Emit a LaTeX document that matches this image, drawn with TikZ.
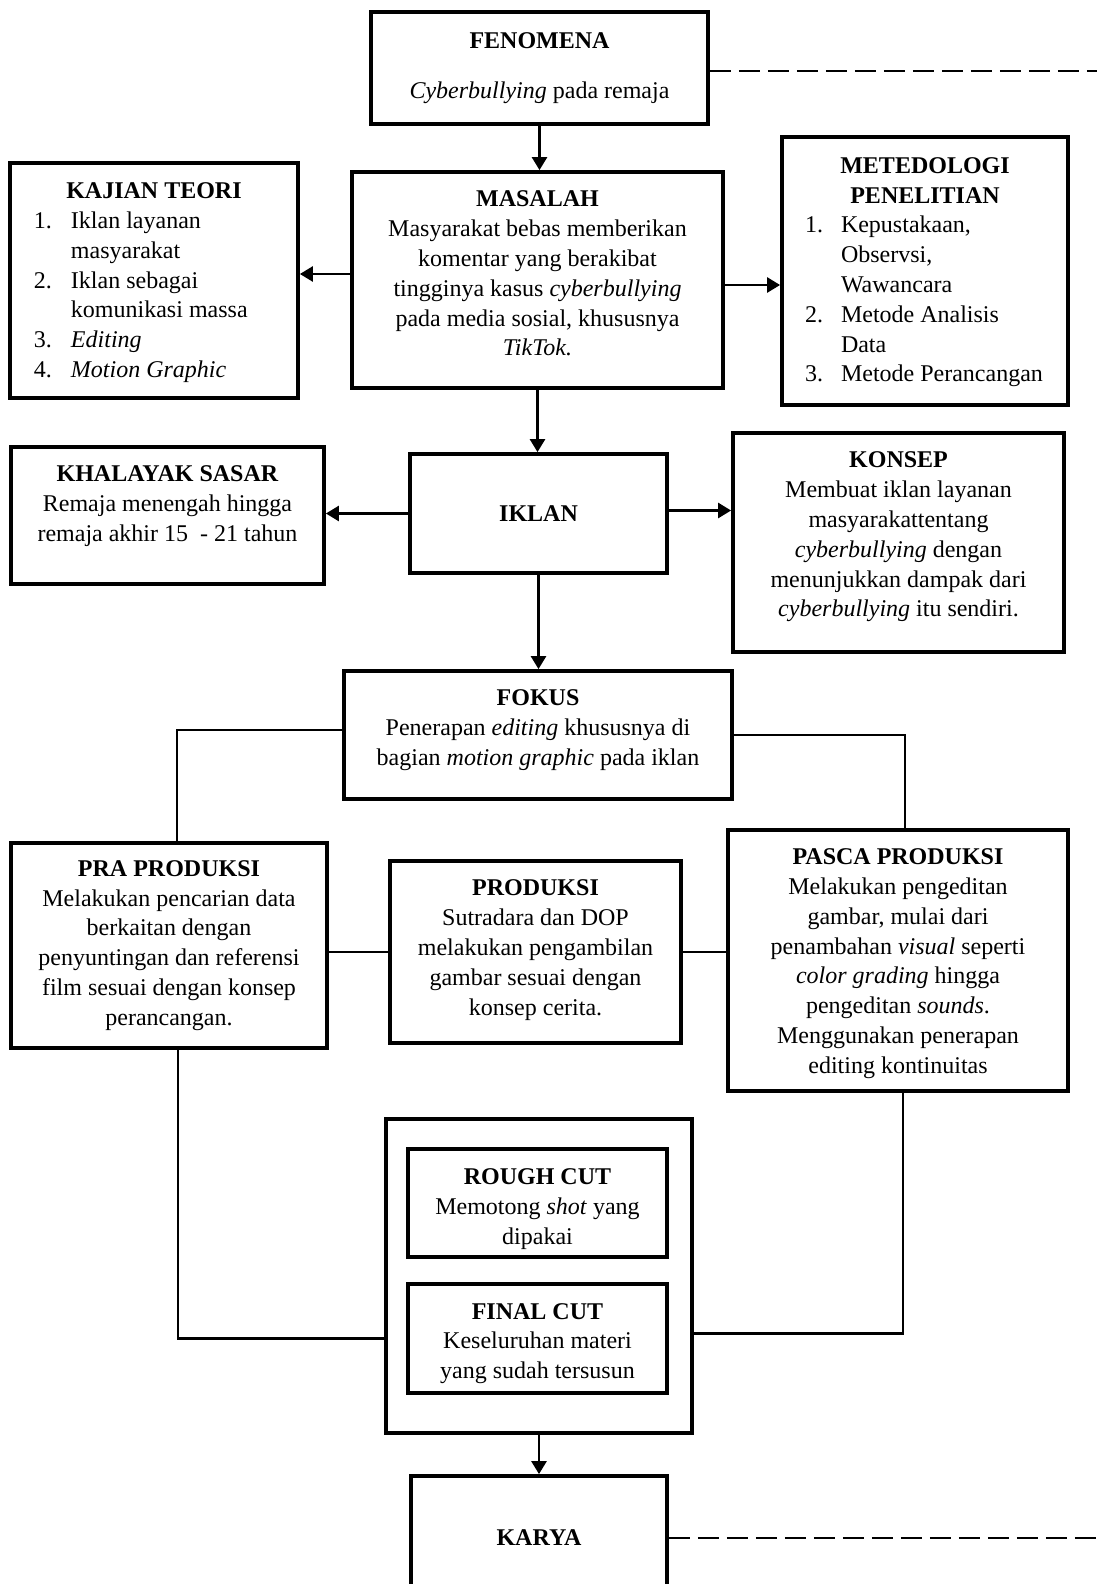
\documentclass[tikz,border=0pt]{standalone}
\usepackage{fontspec}
\setmainfont{Liberation Serif}
\usetikzlibrary{arrows.meta,positioning}

% teks rata atas di dalam kotak
\newcommand{\isiatas}[3]{\parbox[c][#2][t]{#1}{\centering\vspace*{7pt}\strut#3}}
% daftar bernomor
\newcommand{\daftar}[2]{\begin{tabular}[t]{@{}p{#1}@{}l@{}}#2\end{tabular}}
% ruang tambahan di baris pertama
\newcommand{\naik}[1]{\rule{0pt}{#1}}

\begin{document}
\begin{tikzpicture}[x=0.5pt,y=-0.5pt,
    kotak/.style={draw,line width=1.9pt,inner sep=0pt,align=center,
      font=\fontsize{12pt}{14.9pt}\selectfont},
    panah/.style={line width=1.3pt,-{Triangle[length=6.5pt,width=7.5pt]}},
    garis/.style={line width=1.3pt},
    putus/.style={line width=1.4pt,dash pattern=on 10.5pt off 4pt}]
  \useasboundingbox (0,0) rectangle (1097,1584);
  \coordinate (tepi) at (1097,0);

  % baris atas
  \node[kotak,minimum width=168.5pt,minimum height=56pt] (fenomena) at (539.5,68)
    {\textbf{FENOMENA}\\[10pt]\emph{Cyberbullying} pada remaja};
  \node[kotak] (masalah) at (537.5,280)
    {\isiatas{185.5pt}{108pt}{\textbf{MASALAH}\\ Masyarakat bebas memberikan\\ komentar yang berakibat\\
     tingginya kasus \emph{cyberbullying}\\ pada media sosial, khususnya\\ \emph{TikTok.}}};
  \node[kotak,minimum width=144pt,minimum height=117.5pt] (kajian) at (154,280.5)
    {\parbox{144pt}{\centering\naik{12pt}\textbf{KAJIAN TEORI}\par\raggedright\hspace*{12pt}%
     \daftar{18.5pt}{1. & Iklan layanan\\ & masyarakat\\ 2. & Iklan sebagai\\ & komunikasi massa\\
       3. & \emph{Editing}\\ 4. & \emph{Motion Graphic}}}};
  \node[kotak,minimum width=143pt,minimum height=134pt] (metode) at (925,271)
    {\parbox{143pt}{\centering\naik{11pt}\textbf{METEDOLOGI}\\\textbf{PENELITIAN}\par\raggedright\hspace*{11.5pt}%
     \daftar{18pt}{1. & Kepustakaan,\\ & Observsi,\\ & Wawancara\\ 2. & Metode Analisis\\ & Data\\
       3. & Metode Perancangan}}};

  % baris iklan
  \node[kotak,minimum width=128.5pt,minimum height=59.5pt] (iklan) at (538.5,513.5) {\textbf{IKLAN}};
  \node[kotak] (khalayak) at (167.5,515.5)
    {\isiatas{156.5pt}{68.5pt}{\textbf{KHALAYAK SASAR}\\ Remaja menengah hingga\\ remaja akhir 15\ \ - 21 tahun}};
  \node[kotak] (konsep) at (898.5,542.5)
    {\isiatas{165.5pt}{109.5pt}{\textbf{KONSEP}\\ Membuat iklan layanan\\ masyarakattentang\\
     \emph{cyberbullying} dengan\\ menunjukkan dampak dari\\ \emph{cyberbullying} itu sendiri.}};

  \node[kotak] (fokus) at (538,735)
    {\isiatas{194pt}{64pt}{\textbf{FOKUS}\\ Penerapan \emph{editing} khususnya di\\ bagian \emph{motion graphic} pada iklan}};

  % tahap produksi
  \node[kotak,minimum width=158pt,minimum height=102.5pt] (pra) at (169,945.5)
    {\textbf{PRA PRODUKSI}\\ Melakukan pencarian data\\ berkaitan dengan\\ penyuntingan dan referensi\\
     film sesuai dengan konsep\\ perancangan.};
  \node[kotak] (produksi) at (535.5,952)
    {\isiatas{145.5pt}{91pt}{\textbf{PRODUKSI}\\ Sutradara dan DOP\\ melakukan pengambilan\\
     gambar sesuai dengan\\ konsep cerita.}};
  \node[kotak,minimum width=170pt,minimum height=130.5pt] (pasca) at (898,960.5)
    {\naik{11pt}\textbf{PASCA PRODUKSI}\\ Melakukan pengeditan\\ gambar, mulai dari\\ penambahan \emph{visual} seperti\\
     \emph{color grading} hingga\\ pengeditan \emph{sounds}.\\ Menggunakan penerapan\\ editing kontinuitas};

  % penyuntingan
  \node[kotak,minimum width=153pt,minimum height=157pt] (potong) at (539,1276) {};
  \node[kotak,minimum width=129.5pt,minimum height=54pt] (rough) at (537.5,1203)
    {\naik{14pt}\textbf{ROUGH CUT}\\ Memotong \emph{shot} yang\\ dipakai};
  \node[kotak,minimum width=129.5pt,minimum height=54.5pt] (final) at (537.5,1338.5)
    {\naik{13pt}\textbf{FINAL CUT}\\ Keseluruhan materi\\ yang sudah tersusun};

  \node[kotak,minimum width=128pt,minimum height=62pt] (karya) at (539,1538) {\textbf{KARYA}};

  % panah
  \draw[panah] (fenomena.south) -- (fenomena.south |- masalah.north);
  \draw[panah] ([yshift=3pt]masalah.west) -- ([yshift=3pt]masalah.west -| kajian.east);
  \draw[panah] ([yshift=-2.5pt]masalah.east) -- ([yshift=-2.5pt]masalah.east -| metode.west);
  \draw[panah] (masalah.south) -- (masalah.south |- iklan.north);
  \draw[panah] (iklan.west) -- (iklan.west -| khalayak.east);
  \draw[panah] ([yshift=1.5pt]iklan.east) -- ([yshift=1.5pt]iklan.east -| konsep.west);
  \draw[panah] (iklan.south) -- (iklan.south |- fokus.north);
  \draw[garis] ([yshift=2.5pt]fokus.west) -| ([xshift=4pt]pra.north);
  \draw[garis] (fokus.east) -| ([xshift=3.5pt]pasca.north);
  \draw[garis] (produksi.west) -- (produksi.west -| pra.east);
  \draw[garis] (produksi.east) -- (produksi.east -| pasca.west);
  \draw[garis] ([xshift=4.5pt]pra.south) |- (potong.west |- final.west);
  \draw[garis] ([xshift=2.5pt]pasca.south) |- ([yshift=2.5pt]potong.east |- final.east);
  \draw[panah] (potong.south) -- (potong.south |- karya.north);

  % garis putus-putus ke tepi kanan
  \draw[putus] ([yshift=-1.5pt]fenomena.east) -- ([yshift=-1.5pt]fenomena.east -| tepi);
  \draw[putus] (karya.east) -- (karya.east -| tepi);
\end{tikzpicture}
\end{document}
